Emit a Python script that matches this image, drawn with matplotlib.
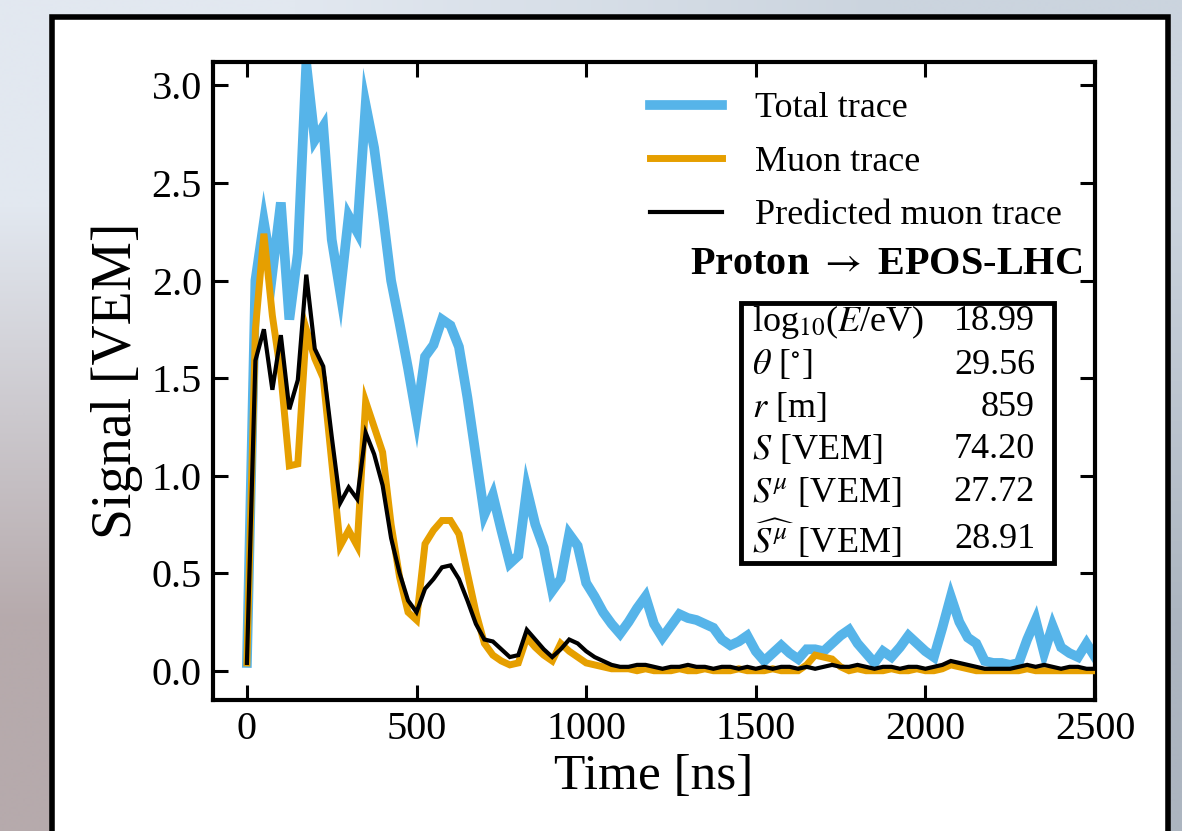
import numpy as np
import matplotlib
matplotlib.use("Agg")
import matplotlib.pyplot as plt
from matplotlib.patches import Rectangle

plt.rcParams['font.family'] = ['Liberation Serif', 'DejaVu Serif']
plt.rcParams['mathtext.fontset'] = 'stix'

# ---------------- data ----------------
time_ns = np.arange(0, 2501, 25)

total_trace = [
    0.04, 2.00, 2.30, 2.04, 2.40, 1.80, 2.14, 3.11, 2.72, 2.79,
    2.21, 1.94, 2.33, 2.25, 2.90, 2.68, 2.35, 2.00, 1.78, 1.55,
    1.30, 1.61, 1.67, 1.80, 1.77, 1.66, 1.40, 1.10, 0.80, 0.90,
    0.72, 0.55, 0.59, 0.93, 0.75, 0.63, 0.41, 0.47, 0.70, 0.64,
    0.45, 0.38, 0.30, 0.24, 0.19, 0.25, 0.32, 0.38, 0.24, 0.17,
    0.23, 0.29, 0.27, 0.26, 0.24, 0.22, 0.16, 0.13, 0.15, 0.18,
    0.10, 0.05, 0.09, 0.13, 0.09, 0.06, 0.11, 0.11, 0.10, 0.14,
    0.18, 0.21, 0.14, 0.09, 0.04, 0.10, 0.07, 0.12, 0.18, 0.14,
    0.10, 0.07, 0.22, 0.38, 0.25, 0.17, 0.14, 0.05, 0.04, 0.04,
    0.03, 0.04, 0.16, 0.26, 0.09, 0.23, 0.12, 0.09, 0.07, 0.14,
    0.07,
]

muon_trace = [
    0.04, 1.75, 2.24, 1.82, 1.52, 1.05, 1.06, 1.75, 1.60, 1.50,
    1.07, 0.64, 0.72, 0.64, 1.38, 1.25, 1.12, 0.75, 0.48, 0.30,
    0.26, 0.65, 0.72, 0.77, 0.77, 0.70, 0.50, 0.30, 0.14, 0.08,
    0.05, 0.03, 0.04, 0.17, 0.12, 0.08, 0.05, 0.14, 0.10, 0.07,
    0.04, 0.03, 0.02, 0.01, 0.01, 0.01, 0.00, 0.01, 0.00, 0.00,
    0.00, 0.01, 0.00, 0.00, 0.01, 0.00, 0.00, 0.00, 0.01, 0.00,
    0.00, 0.00, 0.01, 0.00, 0.00, 0.00, 0.03, 0.08, 0.07, 0.06,
    0.02, 0.00, 0.01, 0.00, 0.00, 0.00, 0.01, 0.00, 0.00, 0.01,
    0.00, 0.00, 0.01, 0.03, 0.02, 0.01, 0.00, 0.00, 0.00, 0.00,
    0.00, 0.00, 0.01, 0.00, 0.00, 0.00, 0.00, 0.00, 0.00, 0.00,
    0.00,
]

predicted_trace = [
    0.04, 1.59, 1.75, 1.44, 1.72, 1.34, 1.49, 2.03, 1.65, 1.56,
    1.20, 0.86, 0.94, 0.88, 1.22, 1.11, 0.95, 0.68, 0.50, 0.36,
    0.30, 0.42, 0.47, 0.53, 0.54, 0.47, 0.36, 0.24, 0.16, 0.15,
    0.11, 0.07, 0.08, 0.21, 0.16, 0.11, 0.07, 0.11, 0.16, 0.14,
    0.10, 0.07, 0.05, 0.03, 0.02, 0.02, 0.03, 0.03, 0.02, 0.01,
    0.02, 0.02, 0.03, 0.02, 0.02, 0.01, 0.02, 0.02, 0.01, 0.02,
    0.01, 0.02, 0.01, 0.02, 0.02, 0.01, 0.02, 0.01, 0.02, 0.03,
    0.02, 0.02, 0.03, 0.02, 0.01, 0.02, 0.02, 0.01, 0.02, 0.02,
    0.01, 0.02, 0.03, 0.05, 0.04, 0.03, 0.02, 0.01, 0.01, 0.01,
    0.01, 0.02, 0.03, 0.02, 0.03, 0.02, 0.01, 0.02, 0.02, 0.01,
    0.01,
]

series_labels = ["Total trace", "Muon trace", "Predicted muon trace"]
series_colors = ["#56B4E9", "#E69F00", "black"]

info_labels = [r"log$_{10}$($E$/eV)", r"$\theta$ [$^{\circ}$]", r"$r$ [m]",
               r"$S$ [VEM]", r"$S^{\mu}$ [VEM]", r"$\widehat{S^{\mu}}$ [VEM]"]
info_values = ["18.99", "29.56", "859", "74.20", "27.72", "28.91"]
model_label = r"Proton $\rightarrow$ EPOS-LHC"

x_ticks = [0, 500, 1000, 1500, 2000, 2500]
y_ticks = [0.0, 0.5, 1.0, 1.5, 2.0, 2.5, 3.0]

# ---------------- figure ----------------
W, H = 1182, 831
fig = plt.figure(figsize=(W / 100, H / 100), dpi=100)

# slide background gradient
bg = fig.add_axes([0, 0, 1, 1], zorder=-10)
grad = np.array([[[226, 232, 240], [203, 212, 222]],
                 [[182, 170, 172], [172, 181, 192]]], dtype=float) / 255.0
bg.imshow(grad, extent=[0, 1, 0, 1], aspect='auto', interpolation='bilinear',
          origin='upper')
bg.set_xlim(0, 1)
bg.set_ylim(0, 1)
bg.axis('off')

# white card with black border
card = Rectangle((52 / W, -0.05), (1168 - 52) / W, (1 - 17 / H) + 0.05,
                 transform=fig.transFigure, facecolor='white',
                 edgecolor='black', linewidth=4, zorder=-5)
fig.patches.append(card)

ax = fig.add_axes([213 / W, 1 - 700 / H, (1095 - 213) / W, (700 - 62) / H])
ax.set_facecolor('white')

widths = [7.0, 5.0, 3.0]
series = [total_trace, muon_trace, predicted_trace]
for vals, lab, col, lw, z in zip(series, series_labels, series_colors, widths, [2, 3, 4]):
    ax.plot(time_ns, vals, color=col, lw=lw, label=lab, zorder=z,
            solid_joinstyle='miter')

ax.set_xlim(-100, 2500)
ax.set_ylim(-0.15, 3.12)
ax.set_xticks(x_ticks)
ax.set_yticks(y_ticks)
ax.set_yticklabels([f"{v:.1f}" for v in y_ticks])
ax.tick_params(direction='in', length=11, width=2.2, labelsize=29,
               top=True, right=True, pad=8)
for sp in ax.spines.values():
    sp.set_linewidth(3)

ax.set_xlabel("Time [ns]", fontsize=37, labelpad=4)
ax.set_ylabel("Signal [VEM]", fontsize=40, labelpad=6)

leg = ax.legend(loc='upper right', fontsize=26, frameon=False,
                handlelength=2.0, handletextpad=0.9, labelspacing=0.56,
                bbox_to_anchor=(0.999, 1.004))

ax.text(0.985, 0.682, model_label, transform=ax.transAxes, ha='right',
        va='center', fontsize=29, fontweight='bold')

# info box
box = Rectangle((0.599, 0.2147), 0.9535 - 0.599, 0.622 - 0.2147,
                transform=ax.transAxes, facecolor='white', edgecolor='black',
                linewidth=3.5, zorder=5)
ax.add_patch(box)
row_y = [0.5925, 0.525, 0.4577, 0.392, 0.3245, 0.251]
for yy, lab, val in zip(row_y, info_labels, info_values):
    ax.text(0.611, yy, lab, transform=ax.transAxes, ha='left', va='center',
            fontsize=26, zorder=6)
    ax.text(0.932, yy, val, transform=ax.transAxes, ha='right', va='center',
            fontsize=26, zorder=6)

fig.savefig("out.png", dpi=100)
